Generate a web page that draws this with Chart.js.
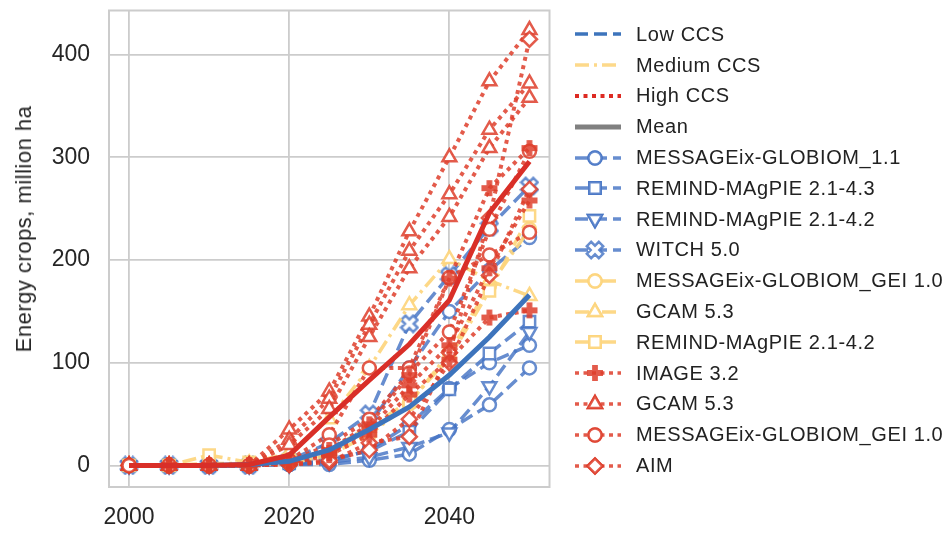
<!DOCTYPE html>
<html><head><meta charset="utf-8">
<script src="https://cdn.jsdelivr.net/npm/chart.js@4"></script>
<style>
body{margin:0;background:#fff;width:949px;height:533px;overflow:hidden;font-family:"Liberation Sans",Arial,sans-serif;}
#wrap{position:absolute;left:0;top:0;width:560px;height:533px;}
#legend{position:absolute;left:572px;top:19px;}
.row{height:30.8px;display:flex;align-items:center;}
.row canvas{width:52px;height:26px;margin-right:12px;display:block}
.row span{font-size:20px;letter-spacing:0.6px;color:#222;white-space:nowrap}
#ytitle{position:absolute;left:24px;top:229px;transform:translate(-50%,-50%) rotate(-90deg);font-size:22px;letter-spacing:0.5px;color:#262626;white-space:nowrap}
</style></head>
<body>
<div id="wrap"><canvas id="c" width="560" height="533"></canvas></div>
<div id="ytitle">Energy crops, million ha</div>
<div id="legend"></div>
<script>
// ---- data ----
const years = [2000,2005,2010,2015,2020,2025,2030,2035,2040,2045,2050];
const xTicks = [2000,2020,2040];
const yTicks = [0,100,200,300,400];

// Low CCS
const lowMessage1 = [0,0,0,0,1,1,5,11,35,59,95];
const lowMessage2 = [0,0,0,0,1,4,15,40,75,100,117];
const lowMessage3 = [0,0,0,0,2,10,40,95,150,190,222];
const lowRemind43 = [0,0,0,0,2,6,14,33,74,109,140];
const lowRemind42 = [0,0,0,0,1,3,8,18,32,77,130];
const lowWitch    = [0,0,0,0,5,22,50,138,185,232,272];
// Medium CCS
const medMessage  = [0,0,0,0,2,10,30,60,110,175,230];
const medGcam     = [0,0,2,2,12,45,95,156,201,180,165];
const medRemind   = [0,0,10,3,5,15,38,62,105,170,243];
// High CCS
const hiGcam1     = [0,0,0,0,35,72,145,228,300,374,424];
const hiGcam2     = [0,0,0,0,25,65,137,209,264,327,372];
const hiGcam3     = [0,0,0,0,20,55,125,192,242,309,358];
const hiAim1      = [0,0,0,0,1,3,22,28,110,241,415];
const hiAim2      = [0,0,0,0,1,5,15,45,100,185,269];
const hiMessage1  = [0,0,0,0,5,30,95,95,183,205,227];
const hiMessage2  = [0,0,0,0,4,20,45,90,130,230,306];
const hiImage1    = [null,0,0,0,5,15,40,88,182,270,309];
const hiImage2    = [null,0,0,0,3,12,35,78,117,192,258];
const hiImage3    = [null,0,0,0,2,10,30,69,103,144,151];
// Means
const meanLow  = [0,0,0,1,4,15,35,57,88,125,166];
const meanHigh = [0,0,0,1,10,47,83,118,161,246,296];

// ---- styles ----
const BLUE='rgba(70,116,196,0.82)', RED='rgba(222,62,44,0.85)', YEL='rgba(253,213,125,0.92)';
const MBLUE='#3d74bc', MRED='#d92f28', GRAY='#808080';
const DASH={low:[13,6], med:[14,5,3,5], high:[4,4.5]};
const LW={low:3.5, med:3.5, high:4};
const COL={low:BLUE, med:YEL, high:RED};

function polyPlus(a){return [[-a,-1],[a,-1],[a,-a],[1,-a],[1,a],[a,a],[a,1],[-a,1],[-a,a],[-1,a],[-1,-a],[-a,-a]];}
function makeImg(kind,color){
  const S=20,c=document.createElement('canvas');c.width=S;c.height=S;
  const g=c.getContext('2d');g.translate(S/2,S/2);
  let pts=polyPlus(0.36), sc=8;
  if(kind==='X'){const r=Math.PI/4;pts=pts.map(([x,y])=>[x*Math.cos(r)-y*Math.sin(r),x*Math.sin(r)+y*Math.cos(r)]);sc=8.5;}
  g.beginPath();pts.forEach(([x,y],i)=>i?g.lineTo(x*sc,y*sc):g.moveTo(x*sc,y*sc));g.closePath();
  if(kind==='P'){g.fillStyle=color;g.fill();}
  else{g.fillStyle='#fff';g.fill();g.lineWidth=2.5;g.strokeStyle=color;g.stroke();}
  return c;
}
const plusImg=makeImg('P',RED), xImg=makeImg('X',BLUE);
const MK={
  circle:{style:'circle',r:6.5,rot:0},
  square:{style:'rect',r:8,rot:0},
  tdown:{style:'triangle',r:8,rot:180},
  tup:{style:'triangle',r:8,rot:0},
  diamond:{style:'rectRot',r:7.5,rot:0},
  X:{style:xImg,r:8,rot:0},
  P:{style:plusImg,r:8,rot:0}
};

const series=[
  {d:lowMessage1,g:'low',m:'circle'},{d:lowMessage2,g:'low',m:'circle'},{d:lowMessage3,g:'low',m:'circle'},
  {d:lowRemind43,g:'low',m:'square'},{d:lowRemind42,g:'low',m:'tdown'},{d:lowWitch,g:'low',m:'X'},
  {d:medMessage,g:'med',m:'circle'},{d:medGcam,g:'med',m:'tup'},{d:medRemind,g:'med',m:'square'},
  {d:hiGcam1,g:'high',m:'tup'},{d:hiGcam2,g:'high',m:'tup'},{d:hiGcam3,g:'high',m:'tup'},
  {d:hiAim1,g:'high',m:'diamond'},{d:hiAim2,g:'high',m:'diamond'},
  {d:hiMessage1,g:'high',m:'circle'},{d:hiMessage2,g:'high',m:'circle'},
  {d:hiImage1,g:'high',m:'P'},{d:hiImage2,g:'high',m:'P'},{d:hiImage3,g:'high',m:'P'}
];
const pts=arr=>arr.map((v,i)=>({x:years[i],y:v}));
const datasets=series.map((s,i)=>{const mk=MK[s.m];return{
  data:pts(s.d),borderColor:COL[s.g],borderWidth:LW[s.g],borderDash:DASH[s.g],
  pointStyle:mk.style,pointRadius:mk.r,pointRotation:mk.rot,pointBorderWidth:2.5,
  pointBorderColor:COL[s.g],pointBackgroundColor:'#fff',tension:0,fill:false,spanGaps:false,order:100-i};});
datasets.push({data:pts(meanLow),borderColor:MBLUE,borderWidth:5,pointRadius:0,tension:0,order:1});
datasets.push({data:pts(meanHigh),borderColor:MRED,borderWidth:5,pointRadius:0,tension:0,order:0});

const frame={id:'frame',afterDraw(ch){const a=ch.chartArea,g=ch.ctx;g.save();g.strokeStyle='#cccccc';g.lineWidth=2;g.strokeRect(a.left,a.top,a.right-a.left,a.bottom-a.top);g.restore();}};
const FONT='"Liberation Sans", Arial, sans-serif';

new Chart(document.getElementById('c'),{
  type:'line',data:{datasets},
  plugins:[frame],
  options:{responsive:false,animation:false,
    layout:{padding:{top:8,right:4,left:0,bottom:0}},
    plugins:{legend:{display:false},tooltip:{enabled:false}},
    scales:{
      x:{type:'linear',min:1997.5,max:2052.5,
        afterBuildTicks:s=>{s.ticks=xTicks.map(v=>({value:v}));},
        afterFit:s=>{s.height=46;s.paddingLeft=0;s.paddingRight=0;},
        grid:{color:'#cccccc',lineWidth:1.8,drawTicks:false},border:{display:false},
        ticks:{padding:17,maxRotation:0,color:'#262626',font:{family:FONT,size:23},callback:v=>String(v)}},
      y:{type:'linear',min:-21,max:443,
        afterBuildTicks:s=>{s.ticks=yTicks.map(v=>({value:v}));},
        afterFit:s=>{s.width=109;s.paddingTop=0;s.paddingBottom=0;},
        grid:{color:'#cccccc',lineWidth:1.8,drawTicks:false},border:{display:false},
        ticks:{padding:19,color:'#262626',font:{family:FONT,size:23}}}
    }}
});

// ---- legend ----
const legendItems=[
  {t:'Low CCS',c:MBLUE,dash:DASH.low,lw:3.5},
  {t:'Medium CCS',c:'#fdd98a',dash:DASH.med,lw:3.5},
  {t:'High CCS',c:'#dd2a22',dash:DASH.high,lw:4},
  {t:'Mean',c:GRAY,dash:[],lw:5},
  {t:'MESSAGEix-GLOBIOM_1.1',c:BLUE,dash:DASH.low,m:'circle'},
  {t:'REMIND-MAgPIE 2.1-4.3',c:BLUE,dash:DASH.low,m:'square'},
  {t:'REMIND-MAgPIE 2.1-4.2',c:BLUE,dash:DASH.low,m:'tdown'},
  {t:'WITCH 5.0',c:BLUE,dash:DASH.low,m:'X'},
  {t:'MESSAGEix-GLOBIOM_GEI 1.0',c:YEL,dash:DASH.med,m:'circle'},
  {t:'GCAM 5.3',c:YEL,dash:DASH.med,m:'tup'},
  {t:'REMIND-MAgPIE 2.1-4.2',c:YEL,dash:DASH.med,m:'square'},
  {t:'IMAGE 3.2',c:RED,dash:DASH.high,m:'P'},
  {t:'GCAM 5.3',c:RED,dash:DASH.high,m:'tup'},
  {t:'MESSAGEix-GLOBIOM_GEI 1.0',c:RED,dash:DASH.high,m:'circle'},
  {t:'AIM',c:RED,dash:DASH.high,m:'diamond'}
];
function drawMk(g,m,x,y,c){
  const mk=MK[m];g.save();g.lineWidth=2.5;g.strokeStyle=c;g.fillStyle='#fff';
  if(m==='X'||m==='P'){const img=makeImg(m,c);g.drawImage(img,x-10,y-10);}
  else{Chart.helpers.drawPoint(g,{pointStyle:mk.style,rotation:mk.rot,radius:mk.r,borderWidth:2.5},x,y);g.fill();g.stroke();}
  g.restore();
}
const L=document.getElementById('legend');
legendItems.forEach(it=>{
  const row=document.createElement('div');row.className='row';
  const cv=document.createElement('canvas');cv.width=52;cv.height=26;
  const g=cv.getContext('2d');g.strokeStyle=it.c;g.lineWidth=it.lw||3.5;g.setLineDash(it.dash);
  g.beginPath();g.moveTo(3,13);g.lineTo(49,13);g.stroke();g.setLineDash([]);
  if(it.m)drawMk(g,it.m,23,13,it.c);
  const sp=document.createElement('span');sp.textContent=it.t;
  row.appendChild(cv);row.appendChild(sp);L.appendChild(row);
});
</script>
</body></html>
